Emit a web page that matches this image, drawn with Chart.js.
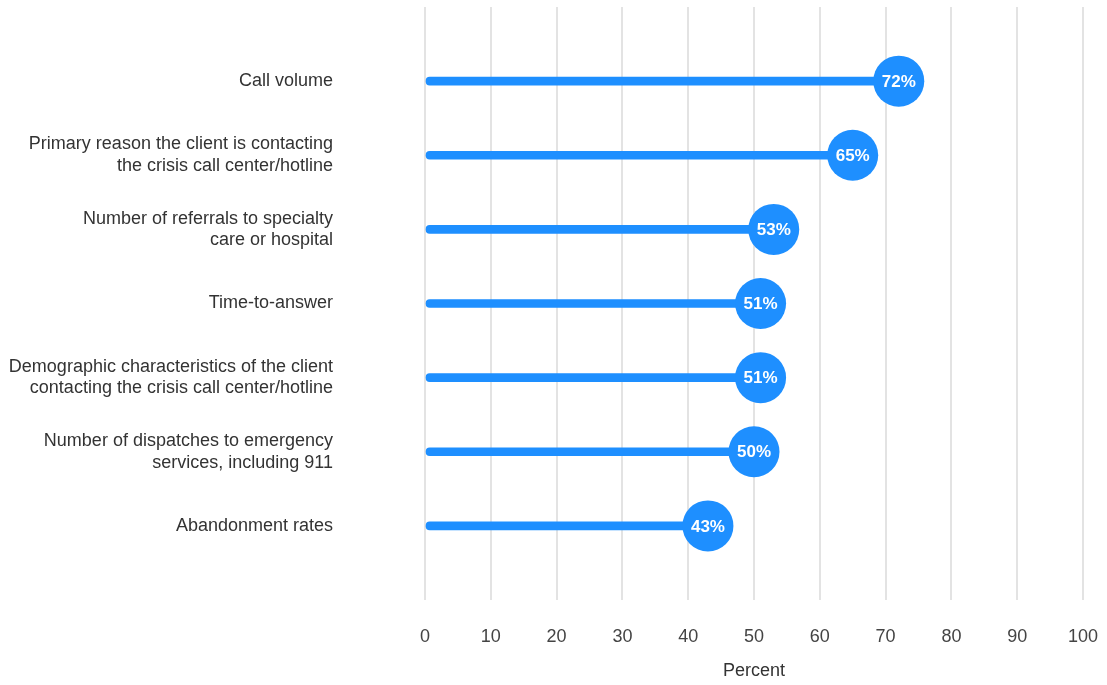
<!DOCTYPE html>
<html>
<head>
<meta charset="utf-8">
<script src="https://cdn.jsdelivr.net/npm/chart.js@4/dist/chart.umd.min.js"></script>
<style>
  html, body { margin: 0; padding: 0; background: #fff; }
  #wrap { width: 1107px; height: 685px; position: relative; }
</style>
</head>
<body>
<div id="wrap"><canvas id="c"></canvas></div>
<script>
const categories = [
  ["Call volume"],
  ["Primary reason the client is contacting", "the crisis call center/hotline"],
  ["Number of referrals to specialty", "care or hospital"],
  ["Time-to-answer"],
  ["Demographic characteristics of the client", "contacting the crisis call center/hotline"],
  ["Number of dispatches to emergency", "services, including 911"],
  ["Abandonment rates"]
];
const values = [72, 65, 53, 51, 51, 50, 43];
const valueLabels = ["72%", "65%", "53%", "51%", "51%", "50%", "43%"];
const xTicks = [0, 10, 20, 30, 40, 50, 60, 70, 80, 90, 100];
const xTitle = "Percent";

const BLUE = "#1e8fff";
const FONT = "'Liberation Sans', Arial, sans-serif";

const points = values.map((v, i) => ({ x: v, y: i }));

const labelPlugin = {
  id: 'lollipopLabels',
  afterDatasetsDraw(chart) {
    const meta = chart.getDatasetMeta(0);
    const ctx = chart.ctx;
    ctx.save();
    ctx.fillStyle = '#ffffff';
    ctx.font = 'bold 17px ' + FONT;
    ctx.textAlign = 'center';
    ctx.textBaseline = 'middle';
    meta.data.forEach((el, i) => {
      ctx.fillText(valueLabels[i], el.x, el.y + 1);
    });
    ctx.restore();
  }
};

new Chart(document.getElementById('c'), {
  data: {
    datasets: [
      {
        type: 'scatter',
        data: points,
        backgroundColor: BLUE,
        borderWidth: 0,
        pointRadius: 25.5,
        pointHoverRadius: 25.5,
        clip: false,
        order: 0
      },
      {
        type: 'bar',
        indexAxis: 'y',
        data: points,
        backgroundColor: BLUE,
        barThickness: 8,
        borderRadius: 4,
        borderSkipped: false,
        order: 1
      }
    ]
  },
  options: {
    responsive: true,
    maintainAspectRatio: false,
    animation: false,
    layout: { autoPadding: false, padding: { top: 7, right: 24, bottom: 0, left: 0 } },
    plugins: { legend: { display: false }, tooltip: { enabled: false } },
    scales: {
      x: {
        type: 'linear',
        min: 0,
        max: 100,
        afterBuildTicks(scale) { scale.ticks = xTicks.map(v => ({ value: v })); },
        afterFit(scale) { scale.height = 85; scale.paddingLeft = 0; scale.paddingRight = 0; },
        grid: { color: '#e3e3e3', lineWidth: 2, drawTicks: false },
        border: { display: false },
        ticks: { padding: 26, color: '#444', maxRotation: 0, font: { family: FONT, size: 18 } },
        title: {
          display: true,
          text: xTitle,
          color: '#333',
          font: { family: FONT, size: 18 },
          padding: { top: 4, bottom: 3 }
        }
      },
      y: {
        type: 'linear',
        min: -1,
        max: 7,
        reverse: true,
        offset: false,
        afterBuildTicks(scale) { scale.ticks = categories.map((c, i) => ({ value: i })); },
        afterFit(scale) { scale.width = 425; scale.paddingTop = 0; scale.paddingBottom = 0; },
        grid: { display: false, drawTicks: false, offset: false },
        border: { display: false },
        ticks: {
          padding: 92,
          color: '#333',
          font: { family: FONT, size: 18 },
          callback(value) { return categories[value] || ''; }
        }
      }
    }
  },
  plugins: [labelPlugin]
});
</script>
</body>
</html>
